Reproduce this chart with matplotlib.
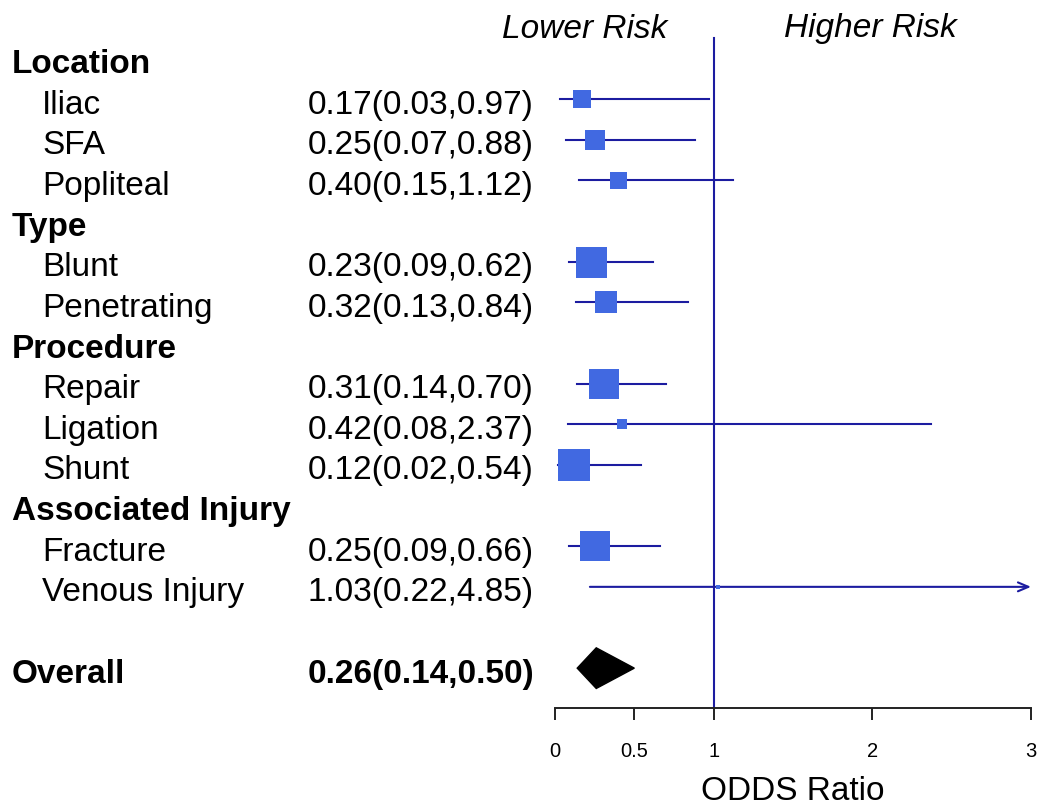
import numpy as np
import matplotlib
matplotlib.use("Agg")
import matplotlib.pyplot as plt
import matplotlib.transforms as mtransforms
from matplotlib.patches import Polygon

plt.rcParams['font.family'] = ['Liberation Sans', 'DejaVu Sans']

# ---------------- data ----------------
groups = ["Location", "Type", "Procedure", "Associated Injury"]
group_items = [
    ["Iliac", "SFA", "Popliteal"],
    ["Blunt", "Penetrating"],
    ["Repair", "Ligation", "Shunt"],
    ["Fracture", "Venous Injury"],
]
odds = [0.17, 0.25, 0.40, 0.23, 0.32, 0.31, 0.42, 0.12, 0.25, 1.03]
ci_low = [0.03, 0.07, 0.15, 0.09, 0.13, 0.14, 0.08, 0.02, 0.09, 0.22]
ci_high = [0.97, 0.88, 1.12, 0.62, 0.84, 0.70, 2.37, 0.54, 0.66, 4.85]
# relative box size (study weight)
weights = [18, 20, 17, 31, 23, 30, 10, 32, 30, 5]

overall_label = "Overall"
overall_or, overall_lo, overall_hi = 0.26, 0.14, 0.50

xticks = [0, 0.5, 1, 2, 3]
xticklabels = ["0", "0.5", "1", "2", "3"]
xmax = 3

# ---------------- layout ----------------
W, H = 1038, 808
fig = plt.figure(figsize=(W / 100, H / 100), dpi=100)

row_px = 40.65
row0_px = 58.4
axis_px = 708
left_px, right_px = 555, 1031
ax = fig.add_axes([left_px / W, 1 - axis_px / H, (right_px - left_px) / W, axis_px / H])
ax.set_xlim(0, xmax)
ax.set_ylim((axis_px - row0_px) / row_px, -row0_px / row_px)

line_col = "#1c1ca0"
box_col = "#4169E1"

# rows
rows = []  # (label, kind, idx)
for g, items in zip(groups, group_items):
    rows.append((g, "head", None))
    for it in items:
        rows.append((it, "item", len([r for r in rows if r[1] == "item"])))
rows.append(("", "blank", None))
rows.append((overall_label, "overall", None))

trans = mtransforms.blended_transform_factory(fig.transFigure, ax.transData)
fs = 24
text_dy = 0.15

for r, (lab, kind, idx) in enumerate(rows):
    if kind == "head":
        ax.text(12 / W, r + text_dy, lab, transform=trans, fontsize=fs, fontweight="bold",
                va="center", ha="left", clip_on=False)
    elif kind == "item":
        ax.text(42 / W, r + text_dy, lab, transform=trans, fontsize=fs,
                va="center", ha="left", clip_on=False)
        ax.text(308 / W, r + text_dy, f"{odds[idx]:.2f}({ci_low[idx]:.2f},{ci_high[idx]:.2f})",
                transform=trans, fontsize=fs, va="center", ha="left", clip_on=False)
        lo, hi = ci_low[idx], ci_high[idx]
        if hi > xmax:
            ax.annotate("", xy=(xmax, r), xytext=(lo, r),
                        arrowprops=dict(arrowstyle="->,head_length=0.75,head_width=0.32",
                                        color=line_col, lw=1.5, shrinkA=0, shrinkB=0),
                        annotation_clip=False)
        else:
            ax.plot([lo, hi], [r, r], color=line_col, lw=1.5, zorder=2)
        ax.plot(odds[idx], r, marker="s", ms=weights[idx] * 0.72, color=box_col,
                mec=box_col, mew=0, zorder=3)
    elif kind == "overall":
        ax.text(12 / W, r + text_dy, lab, transform=trans, fontsize=fs, fontweight="bold",
                va="center", ha="left", clip_on=False)
        ax.text(308 / W, r + text_dy, f"{overall_or:.2f}({overall_lo:.2f},{overall_hi:.2f})",
                transform=trans, fontsize=fs, fontweight="bold", va="center", ha="left",
                clip_on=False)
        diamond = Polygon([(overall_lo, r), (overall_or, r - 0.5), (overall_hi, r),
                           (overall_or, r + 0.5)], closed=True, color="black", zorder=3)
        ax.add_patch(diamond)

# reference line at OR = 1
ax.plot([1, 1], [-0.5, ax.get_ylim()[0]], color=line_col, lw=1.5, zorder=1, clip_on=False)

# axis styling
for s in ["top", "left", "right"]:
    ax.spines[s].set_visible(False)
ax.spines["bottom"].set_color("#222222")
ax.spines["bottom"].set_linewidth(1.4)
ax.set_yticks([])
ax.set_xticks(xticks)
ax.set_xticklabels(xticklabels)
ax.tick_params(axis="x", direction="out", length=8.6, width=1.4, color="#222222",
               labelsize=14.5, pad=16)
ax.set_xlabel("ODDS Ratio", fontsize=fs, labelpad=11)

fig.text(585 / W, 1 - 29 / H, "Lower Risk", fontsize=fs, style="italic", ha="center", va="center")
fig.text(870 / W, 1 - 29 / H, "Higher Risk", fontsize=fs, style="italic", ha="center", va="center")

fig.savefig("out.png", dpi=100)
